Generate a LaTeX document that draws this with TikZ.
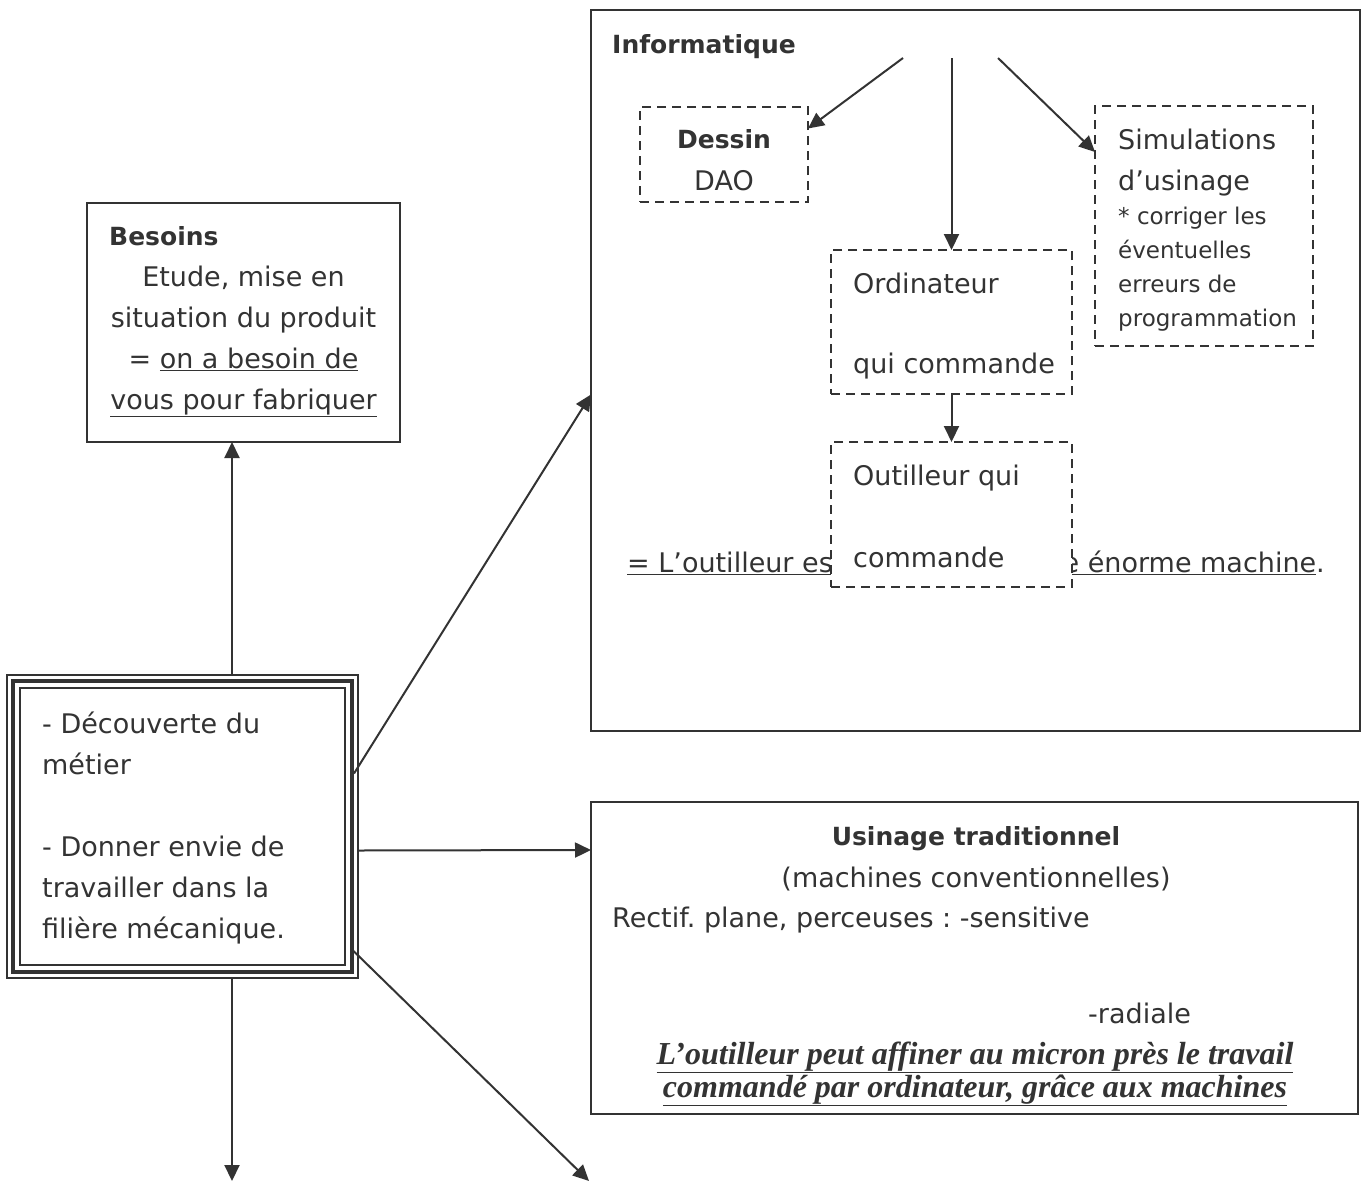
\documentclass[tikz,border=0pt]{standalone}
\usepackage{fontspec}
\setmainfont{DejaVu Sans}
\newfontfamily\timesfont{Liberation Serif}
\usepackage{tikz}
\usetikzlibrary{arrows.meta, positioning, calc}
\frenchspacing
\definecolor{trait}{HTML}{333333}
\tikzstyle{cadre} = [rectangle, draw=trait, line width=1.8pt, inner sep=0pt, outer sep=0pt]
\tikzstyle{pointille} = [rectangle, draw=trait, line width=1.4pt, dash pattern=on 9pt off 6pt, inner sep=0pt, outer sep=0pt, fill=white]
\tikzstyle{texte} = [inner sep=0pt, align=left, text=trait, font=\fontsize{27}{41}\selectfont]
\tikzstyle{gras} = [inner sep=0pt, align=left, text=trait, font=\bfseries\fontsize{25}{41}\selectfont]
\tikzstyle{petit} = [inner sep=0pt, align=left, text=trait, font=\fontsize{23}{34}\selectfont]
\tikzstyle{serif} = [inner sep=0pt, align=center, text=trait, font=\timesfont\bfseries\itshape\fontsize{32}{33}\selectfont]
\tikzstyle{fleche} = [draw=trait, line width=2pt, -{Triangle[length=16pt, width=15pt]}]

\begin{document}
\begin{tikzpicture}[x=1pt, y=-1pt]
                  \useasboundingbox (0,0) rectangle (1364,1183);

                  % cadres principaux
                  \node (besoins) [cadre, minimum width=313pt, minimum height=239pt] at (243.5,322.5) {};
                  \node (centre) [cadre, minimum width=351pt, minimum height=303pt] at (182.5,826.5) {};
                  \node (info) [cadre, minimum width=769pt, minimum height=721pt] at (975.5,370.5) {};
                  \node (usinage) [cadre, minimum width=767pt, minimum height=312pt] at (974.5,958) {};
                  \draw [draw=trait, line width=4.5pt] ([shift={(6pt,-6pt)}]centre.north west) rectangle ([shift={(-6pt,6pt)}]centre.south east);
                  \draw [draw=trait, line width=1.8pt] ([shift={(13pt,-13pt)}]centre.north west) rectangle ([shift={(-13pt,13pt)}]centre.south east);

                  % textes (ancre sur la derniere ligne)
                  \node (decouverte) [texte, anchor=base west] at (42,938) {- Découverte du\\métier\\[41pt]- Donner envie de\\travailler dans la\\filière mécanique.};
                  \node (besoins-titre) [gras, anchor=base west] at (109,245) {Besoins};
                  \node (besoins-texte) [texte, align=center, anchor=base] at (243.5,409) {Etude, mise en\\situation du produit\\= \underline{on a besoin de}\\\underline{vous pour fabriquer}};
                  \node (info-titre) [gras, anchor=base west] at (612,53) {Informatique};
                  \node (phrase-g) [texte, anchor=base west] at (627,572) {\underline{= L’outilleur est}};
                  \node (phrase-d) [texte, anchor=base east] at (1325,572) {\underline{e énorme machine}.};
                  \node (usinage-titre) [gras, anchor=base] at (976,845) {Usinage traditionnel};
                  \node (usinage-sous) [texte, anchor=base] at (976,887) {(machines conventionnelles)};
                  \node (rectif) [texte, anchor=base west] at (612,927) {Rectif. plane, perceuses : -sensitive};
                  \node (radiale) [texte, anchor=base west] at (1088,1023) {-radiale};
                  \node (affiner) [serif, anchor=base] at (975,1097) {\underline{L’outilleur peut affiner au micron près le travail}\\\underline{commandé par ordinateur, grâce aux machines}};

                  % cadres pointilles
                  \node (dessin) [pointille, minimum width=168pt, minimum height=95pt] at (724,154.5) {};
                  \node (simul) [pointille, minimum width=218pt, minimum height=240pt] at (1204,226) {};
                  \node (ordi) [pointille, minimum width=241pt, minimum height=144pt] at (951.5,322) {};
                  \node (outil) [pointille, minimum width=241pt, minimum height=145pt, below=48pt of ordi] {};
                  \node (dessin-titre) [gras, anchor=base] at (724,148) {Dessin};
                  \node (dessin-texte) [texte, anchor=base] at (724,190) {DAO};
                  \node (simul-titre) [texte, anchor=base west] at (1118,190) {Simulations\\d’usinage};
                  \node (simul-texte) [petit, anchor=base west] at (1118,326) {* corriger les\\éventuelles\\erreurs de\\programmation};
                  \node (ordi-texte) [texte, anchor=base west] at (853,373) {Ordinateur\\[39pt]qui commande};
                  \node (outil-texte) [texte, anchor=base west] at (853,567) {Outilleur qui\\[41pt]commande};

                  % points de depart et d'arrivee
                  \coordinate (axe) at (232,0);
                  \coordinate (bas) at (232,1181);
                  \coordinate (coin) at (589,1181);
                  \coordinate (src-g) at (903,58);
                  \coordinate (src-m) at (951.5,58);
                  \coordinate (src-d) at (998,58);

                  \draw [fleche] (centre.north -| axe) -- (besoins.south -| axe);
                  \draw [fleche] (centre.south -| axe) -- (bas);
                  \draw [fleche] ([shift={(-4pt,53pt)}]centre.east) -- ([yshift=-24pt]info.west);
                  \draw [fleche] ([yshift=-24pt]centre.east) -- ([yshift=108pt]usinage.west);
                  \draw [fleche] ([shift={(-5pt,-124pt)}]centre.east) -- (coin);
                  \draw [fleche] (src-g) -- ([yshift=26pt]dessin.east);
                  \draw [fleche] (src-m) -- (ordi.north);
                  \draw [fleche] (src-d) -- ([yshift=74pt]simul.west);
                  \draw [fleche] (ordi) -- (outil);
              \end{tikzpicture}
\end{document}
